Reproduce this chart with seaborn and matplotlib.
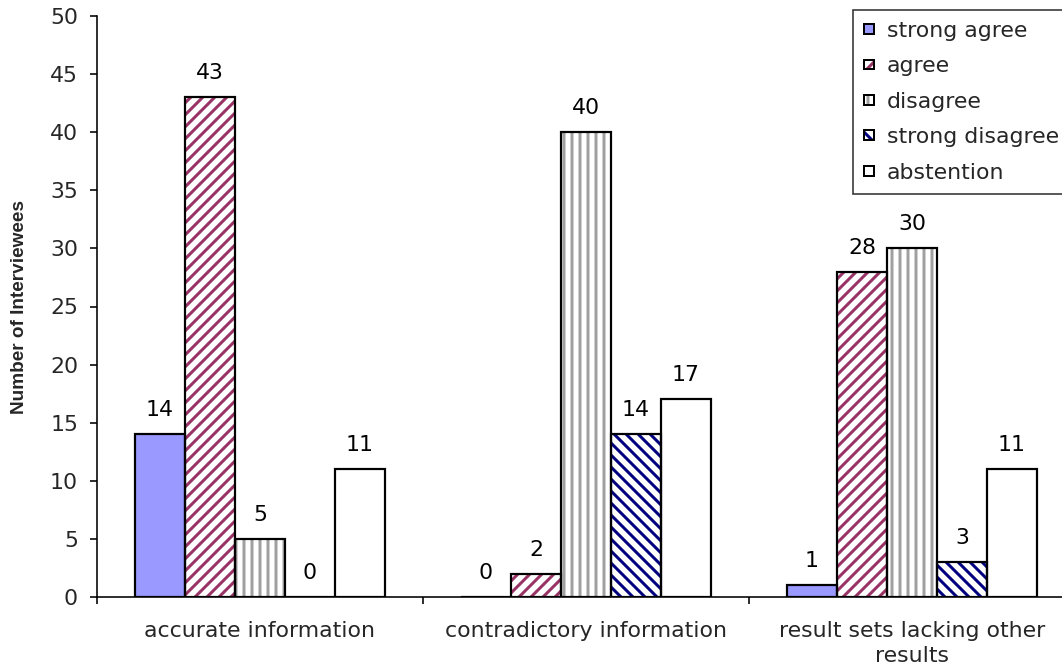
import matplotlib
matplotlib.use("Agg")
import matplotlib.pyplot as plt
from matplotlib.patches import Patch, Rectangle
from matplotlib.legend_handler import HandlerTuple
import pandas as pd
import seaborn as sns

questions = ["accurate information", "contradictory information",
             "result sets lacking other\nresults"]
responses = ["strong agree", "agree", "disagree", "strong disagree", "abstention"]
counts = {
    "strong agree":    [14, 0, 1],
    "agree":           [43, 2, 28],
    "disagree":        [5, 40, 30],
    "strong disagree": [0, 14, 3],
    "abstention":      [11, 17, 11],
}
y_ticks = list(range(0, 51, 5))

fills = {"strong agree": "#9999FF", "agree": "white", "disagree": "white",
         "strong disagree": "white", "abstention": "white"}
hatches = {"strong agree": None, "agree": "////", "disagree": "|||",
           "strong disagree": "\\\\\\\\", "abstention": None}
hatch_colors = {"strong agree": "black", "agree": "#993366", "disagree": "#A0A0A0",
                "strong disagree": "#000080", "abstention": "black"}

rows = [(q, r, counts[r][i]) for r in responses for i, q in enumerate(questions)]
df = pd.DataFrame(rows, columns=["question", "response", "count"])

sns.set_theme(style="white")
plt.rcParams["font.family"] = ["DejaVu Sans"]
plt.rcParams["hatch.linewidth"] = 1.5

fs = 11
fig = plt.figure(figsize=(1062 / 144, 669 / 144), dpi=144)
ax = fig.add_axes([97 / 1062, 72 / 669, 978 / 1062, 581 / 669])

sns.barplot(data=df, x="question", y="count", hue="response",
            hue_order=responses, order=questions, palette=fills,
            width=0.767, saturation=1, legend=False, ax=ax)

# hatch is drawn in the patch's edge colour, so the black outline is a second patch
for resp, container in zip(responses, ax.containers):
    for bar in container:
        bar.set_hatch(hatches[resp])
        bar.set_edgecolor(hatch_colors[resp])
        bar.set_linewidth(0)
        ax.add_patch(Rectangle(bar.get_xy(), bar.get_width(), bar.get_height(),
                               fill=False, edgecolor="black", linewidth=1.1,
                               zorder=bar.get_zorder() + 0.1))
    ax.bar_label(container, labels=[str(v) for v in counts[resp]],
                 padding=7, fontsize=fs, color="black")

ax.set_ylim(0, 50)
ax.set_yticks(y_ticks)
ax.set_xlim(-0.5, len(questions) - 0.5)
ax.set_xticks([i - 0.5 for i in range(len(questions) + 1)])
ax.set_xticklabels([])
ax.set_xticks(range(len(questions)), minor=True)
ax.set_xticklabels(questions, minor=True, fontsize=fs, linespacing=1.3)
ax.tick_params(axis="x", which="major", direction="out", length=3.5, width=0.8,
               color="black", bottom=True)
ax.tick_params(axis="x", which="minor", length=0, pad=12)
ax.tick_params(axis="y", direction="out", length=3.5, width=0.8, color="black",
               left=True, labelsize=fs, pad=6)
ax.set_xlabel("")
ax.set_ylabel("Number of Interviewees", fontsize=9.5, fontweight="bold",
              family=["Liberation Sans"], labelpad=11)

for side in ("top", "right"):
    ax.spines[side].set_visible(False)
for side in ("left", "bottom"):
    ax.spines[side].set_color("black")
    ax.spines[side].set_linewidth(0.8)

handles = []
for r in responses:
    inner = Patch(facecolor=fills[r], edgecolor=hatch_colors[r], linewidth=0,
                  hatch=hatches[r])
    outline = Patch(fill=False, edgecolor="black", linewidth=1.0)
    handles.append((inner, outline))
leg = fig.legend(handles=handles, labels=responses, loc="upper left",
                 handler_map={tuple: HandlerTuple(ndivide=1, pad=0)},
                 bbox_to_anchor=(853 / 1062, 1 - 10 / 669),
                 bbox_transform=fig.transFigure, fontsize=fs,
                 handlelength=0.45, handleheight=0.3, handletextpad=0.6,
                 labelspacing=0.7, borderpad=0.5, frameon=True, fancybox=False,
                 borderaxespad=0)
leg.get_frame().set_edgecolor("black")
leg.get_frame().set_linewidth(0.8)

fig.savefig("out.png", dpi=144)
